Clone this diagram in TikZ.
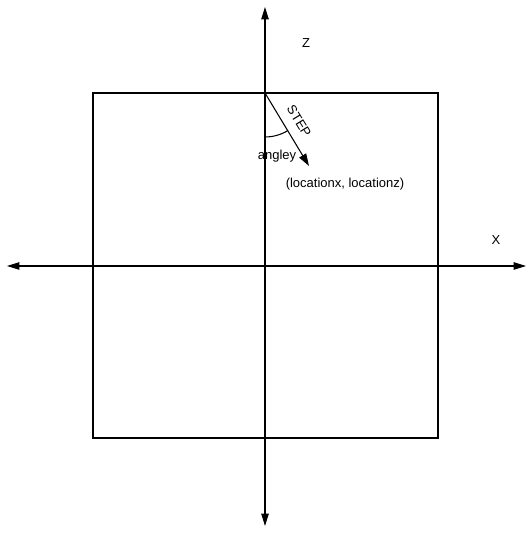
\documentclass[tikz,border=0pt]{standalone}
\usepackage{fontspec}
\setmainfont{Liberation Sans}
\usetikzlibrary{arrows.meta, calc}

\begin{document}
\begin{tikzpicture}[
    x=0.02cm, y=0.02cm,
    axis/.style   = {-{Triangle[length=7pt, width=4.2pt]}, line width=0.6pt},
    steparrow/.style = {-{Triangle[length=7pt, width=4.5pt]}, line width=0.6pt},
    lbl/.style    = {inner sep=0pt, font=\fontsize{7.4}{9}\selectfont},
  ]
  \useasboundingbox (0,0) rectangle (529,533);

  % axes
  \coordinate (origin) at (265,267);
  \coordinate (xleft)  at (7,267);
  \coordinate (xright) at (526,267);
  \coordinate (zdown)  at (265,7);
  \coordinate (zup)    at (265,526);
  \draw[axis] (origin) -- (xright);
  \draw[axis] (origin) -- (xleft);
  \draw[axis] (origin) -- (zup);
  \draw[axis] (origin) -- (zdown);

  % square
  \draw[line width=0.6pt] (93,95) rectangle (438,440);

  % step
  \coordinate (corner) at (265,440);
  \coordinate (tip)    at (309,367);
  \draw[steparrow] (corner) -- (tip);
  \draw[line width=0.6pt] ($(corner)+(270:44)$) arc[start angle=270, end angle=301.5, radius=44];

  \node[lbl] (xlabel) at (496,293) {X};
  \node[lbl] (zlabel) at (306,490) {Z};
  \node[lbl, rotate=-58.5] (steplabel) at (299,412) {STEP};
  \node[lbl] (angley) at (277,377) {angley};
  \node[lbl] (location) at (345,349) {(locationx, locationz)};
\end{tikzpicture}
\end{document}
